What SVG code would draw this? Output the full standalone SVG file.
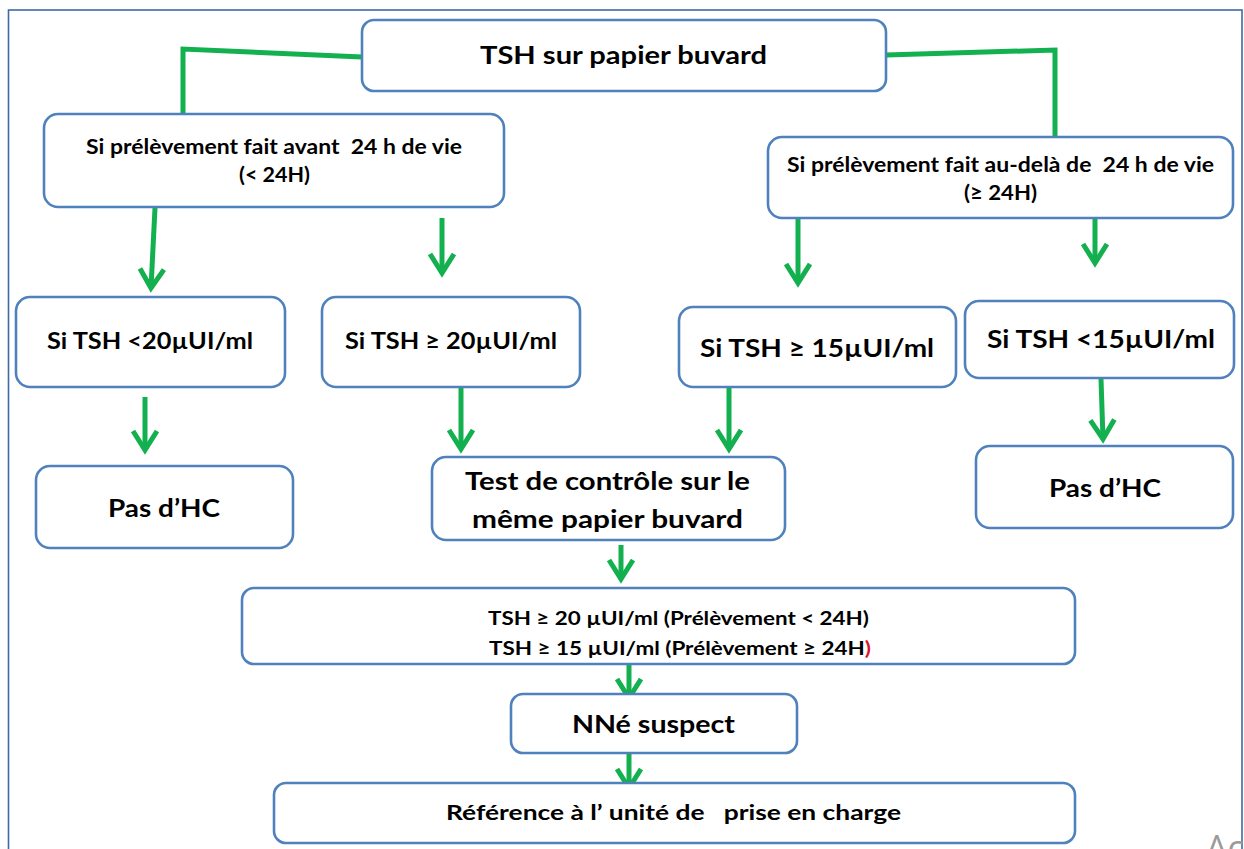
<svg xmlns="http://www.w3.org/2000/svg" width="1244" height="849" viewBox="0 0 1244 849">
<style>
  .box { fill: #ffffff; stroke: #4f81bd; stroke-width: 2.6; }
  .lbl { font-family: Lato, "Liberation Sans", "DejaVu Sans", sans-serif; font-weight: 700; fill: #000; white-space: pre; }
  .conn { fill: none; stroke: #12b04f; stroke-width: 5; stroke-linejoin: miter; }
  .arr { fill: none; stroke: #12b04f; stroke-width: 5; marker-end: url(#ah); }
</style>
<defs>
  <marker id="ah" markerUnits="userSpaceOnUse" orient="auto" overflow="visible" refX="0" refY="0" markerWidth="1" markerHeight="1">
    <path d="M-19,-12 L0,0 L-19,12" fill="none" stroke="#12b04f" stroke-width="5" stroke-linejoin="miter"/>
  </marker>
</defs>
<rect x="0" y="0" width="1244" height="849" fill="#ffffff"/>
<rect x="8.5" y="10" width="1233.5" height="860" fill="none" stroke="#3f6aa3" stroke-width="1.6"/>

<g id="connectors">
  <polyline class="conn" points="362,57 183,49 183,117"/>
  <polyline class="conn" points="886,55 1055,50 1055,137"/>
  <line class="arr" x1="155" y1="208" x2="151" y2="288"/>
  <line class="arr" x1="442" y1="218" x2="442" y2="273"/>
  <line class="arr" x1="798" y1="218" x2="798" y2="283"/>
  <line class="arr" x1="1095" y1="218" x2="1095" y2="263"/>
  <line class="arr" x1="145" y1="397" x2="145" y2="450"/>
  <line class="arr" x1="461" y1="387" x2="461" y2="449"/>
  <line class="arr" x1="729" y1="387" x2="729" y2="449"/>
  <line class="arr" x1="1101" y1="379" x2="1103" y2="439"/>
  <line class="arr" x1="621" y1="545" x2="621" y2="579"/>
  <line class="arr" x1="629" y1="665" x2="629" y2="698"/>
  <line class="arr" x1="629" y1="754" x2="629" y2="788"/>
</g>

<g id="n_top">
  <rect class="box" x="362" y="20" width="524" height="71" rx="12"/>
  <text class="lbl" x="480" y="64" font-size="25.5" textLength="287" lengthAdjust="spacingAndGlyphs">TSH sur papier buvard</text>
</g>
<g id="n_before24">
  <rect class="box" x="44" y="114" width="460" height="93" rx="14"/>
  <text class="lbl" x="86" y="154" font-size="20" textLength="376" lengthAdjust="spacingAndGlyphs">Si prélèvement fait avant  24 h de vie</text>
  <text class="lbl" x="239" y="182" font-size="20" textLength="71" lengthAdjust="spacingAndGlyphs">(&lt; 24H)</text>
</g>
<g id="n_after24">
  <rect class="box" x="768" y="137" width="465" height="81" rx="14"/>
  <text class="lbl" x="787" y="172" font-size="20" textLength="427" lengthAdjust="spacingAndGlyphs">Si prélèvement fait au-delà de  24 h de vie</text>
  <text class="lbl" x="964" y="200" font-size="20" textLength="73" lengthAdjust="spacingAndGlyphs">(≥ 24H)</text>
</g>
<g id="n_lt20">
  <rect class="box" x="16" y="297" width="269" height="90" rx="14"/>
  <text class="lbl" x="47" y="349" font-size="23.5" textLength="206" lengthAdjust="spacingAndGlyphs">Si TSH &lt;20µUI/ml</text>
</g>
<g id="n_ge20">
  <rect class="box" x="322" y="297" width="258" height="90" rx="14"/>
  <text class="lbl" x="345" y="349" font-size="23.5" textLength="212" lengthAdjust="spacingAndGlyphs">Si TSH ≥ 20µUI/ml</text>
</g>
<g id="n_ge15">
  <rect class="box" x="679" y="307" width="277" height="80" rx="14"/>
  <text class="lbl" x="700" y="357" font-size="25.5" textLength="234" lengthAdjust="spacingAndGlyphs">Si TSH ≥ 15µUI/ml</text>
</g>
<g id="n_lt15">
  <rect class="box" x="965" y="301" width="269" height="77" rx="14"/>
  <text class="lbl" x="987" y="348" font-size="25.5" textLength="228" lengthAdjust="spacingAndGlyphs">Si TSH &lt;15µUI/ml</text>
</g>
<g id="n_nohc_left">
  <rect class="box" x="36" y="466" width="257" height="82" rx="14"/>
  <text class="lbl" x="108" y="517" font-size="25.5" textLength="112" lengthAdjust="spacingAndGlyphs">Pas d’HC</text>
</g>
<g id="n_test">
  <rect class="box" x="432" y="457" width="353" height="83" rx="14"/>
  <text class="lbl" x="465" y="490" font-size="25.5" textLength="285" lengthAdjust="spacingAndGlyphs">Test de contrôle sur le</text>
  <text class="lbl" x="472" y="528" font-size="25.5" textLength="271" lengthAdjust="spacingAndGlyphs">même papier buvard</text>
</g>
<g id="n_nohc_right">
  <rect class="box" x="976" y="446" width="257" height="82" rx="14"/>
  <text class="lbl" x="1049" y="497" font-size="25.5" textLength="112" lengthAdjust="spacingAndGlyphs">Pas d’HC</text>
</g>
<g id="n_thresholds">
  <rect class="box" x="242" y="588" width="833" height="76" rx="12"/>
  <text class="lbl" x="488" y="624.5" font-size="19.5" textLength="381" lengthAdjust="spacingAndGlyphs">TSH ≥ 20 µUI/ml (Prélèvement &lt; 24H)</text>
  <text class="lbl" x="489" y="654.5" font-size="19.5" textLength="382" lengthAdjust="spacingAndGlyphs">TSH ≥ 15 µUI/ml (Prélèvement ≥ 24H<tspan fill="#e0102a">)</tspan></text>
</g>
<g id="n_suspect">
  <rect class="box" x="511" y="694" width="286" height="59" rx="12"/>
  <text class="lbl" x="572" y="733" font-size="25.5" textLength="163" lengthAdjust="spacingAndGlyphs">NNé suspect</text>
</g>
<g id="n_reference">
  <rect class="box" x="274" y="783" width="801" height="60" rx="12"/>
  <text class="lbl" x="446" y="820" font-size="20.5" textLength="455" lengthAdjust="spacingAndGlyphs">Référence à l’ unité de   prise en charge</text>
</g>

<text x="1206" y="860" font-family="'Open Sans', 'Liberation Sans', sans-serif" font-size="34" fill="#9a9a9a">Ac</text>
</svg>
